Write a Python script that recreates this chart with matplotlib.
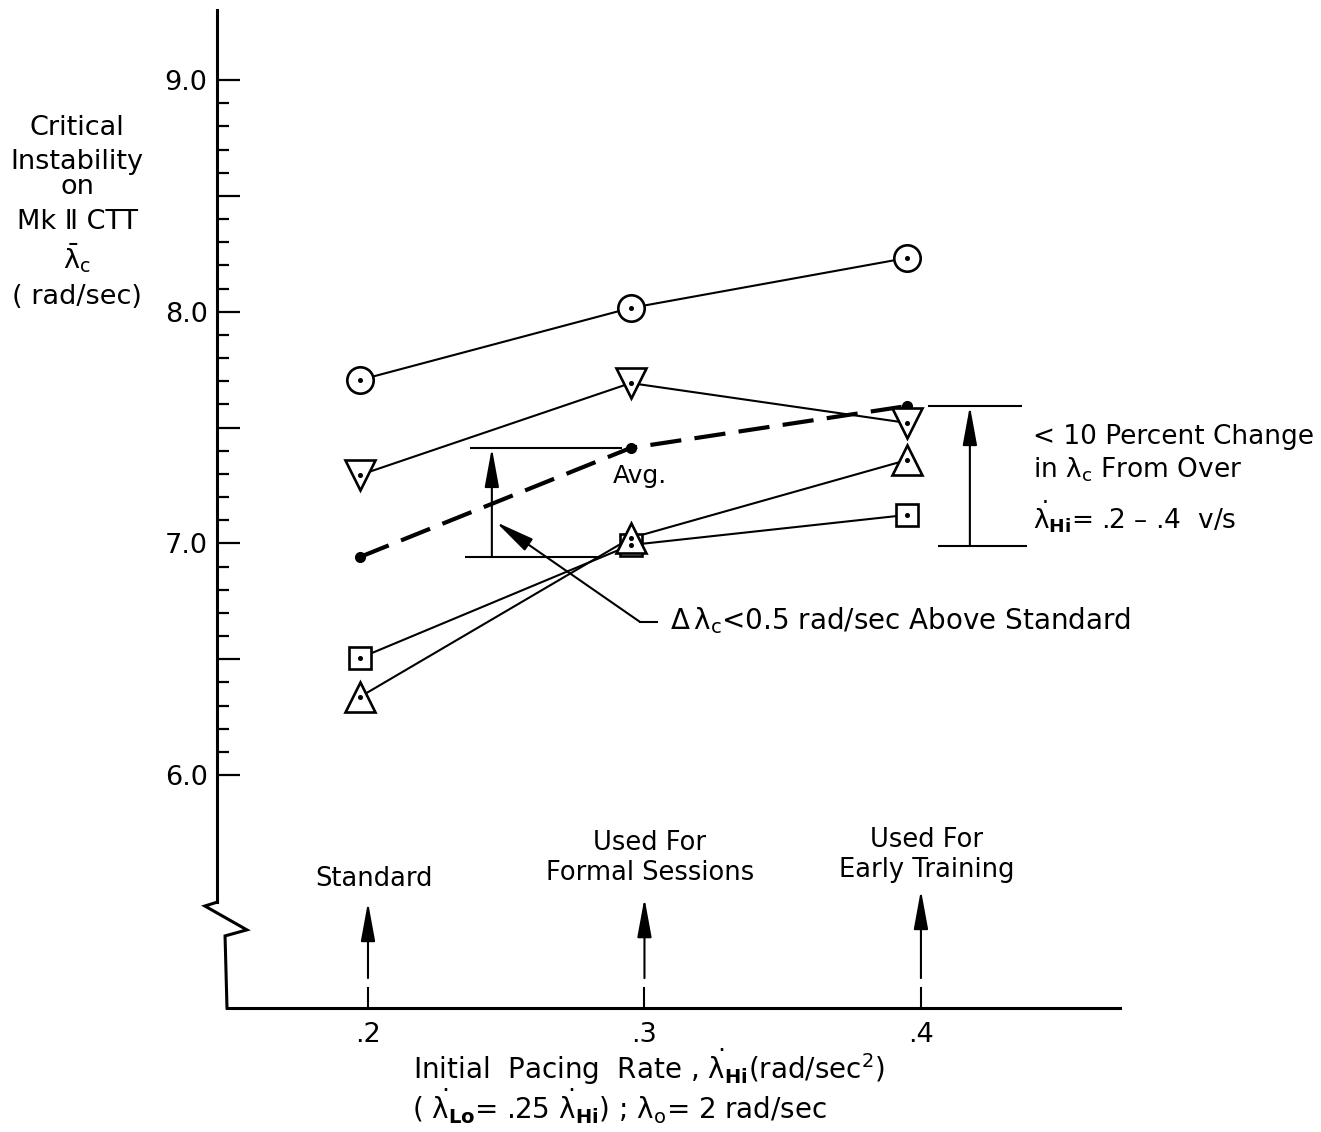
import numpy as np
import matplotlib
matplotlib.use("Agg")
import matplotlib.pyplot as plt
from matplotlib.ticker import FixedLocator, FixedFormatter

plt.rcParams["font.family"] = ["DejaVu Sans"]
plt.rcParams["mathtext.fontset"] = "dejavusans"

# pacing rate where the points sit and lambda_c values
RATE = [0.197, 0.295, 0.395]
CIRCLE = [7.705, 8.016, 8.232]
TRI_DOWN = [7.295, 7.692, 7.520]
AVERAGE = [6.941, 7.412, 7.593]
SQUARE = [6.505, 6.993, 7.123]
TRI_UP = [6.337, 7.023, 7.360]

X_TICKS = [0.2, 0.3, 0.4]
X_TICK_LABELS = [".2", ".3", ".4"]
Y_MAJOR = np.arange(6.0, 9.01, 0.5)
Y_MINOR = np.arange(6.0, 9.01, 0.1)
Y_MAJOR_LABELS = ["6.0", "", "7.0", "", "8.0", "", "9.0"]

NOTE_RATES = [0.2, 0.3, 0.4]
NOTE_LABELS = ["Standard", "Used For\nFormal Sessions", "Used For\nEarly Training"]
RIGHT_LOW = 6.99  # lower limit of the "< 10 percent" bracket

LAM = r"\mathrm{\lambda}"
# dotted lambda; the trailing thin space nudges the dot towards the glyph centre
LAMDOT = r"{\dot{\mathrm{\lambda}\,}\!}"

fig = plt.figure(figsize=(13.21, 11.32), dpi=100)
ax = fig.add_axes([0, 0, 1, 1])
ax.set_xlim(0.0669, 0.5447)
ax.set_ylim(4.4597, 9.3453)

# axes: left spine with inward ticks, bottom spine, break mark
for side in ["top", "right"]:
    ax.spines[side].set_visible(False)
ax.spines["left"].set_position(("data", 0.1455))
ax.spines["left"].set_bounds(5.452, 9.30)
ax.spines["bottom"].set_position(("data", 4.995))
ax.spines["bottom"].set_bounds(0.149, 0.472)
for side in ["left", "bottom"]:
    ax.spines[side].set_linewidth(2.2)

ax.yaxis.set_major_locator(FixedLocator(Y_MAJOR))
ax.yaxis.set_major_formatter(FixedFormatter(Y_MAJOR_LABELS))
ax.yaxis.set_minor_locator(FixedLocator(Y_MINOR))
ax.tick_params(axis="y", which="major", direction="in", length=16.5, width=1.6,
               labelsize=19.5, pad=7)
ax.tick_params(axis="y", which="minor", direction="in", length=8.5, width=1.6)
ax.set_xticks(X_TICKS, X_TICK_LABELS)
ax.tick_params(axis="x", length=0, labelsize=19.5, pad=10)

ax.plot([0.1455, 0.1410, 0.1562, 0.1483, 0.149], [5.452, 5.435, 5.332, 5.306, 4.995],
        color="black", lw=2.2, solid_joinstyle="miter", clip_on=False)

# data series
series = [(CIRCLE, "o", 19), (TRI_DOWN, "v", 22), (SQUARE, "s", 16.5), (TRI_UP, "^", 22)]
for vals, mk, ms in series:
    ax.plot(RATE, vals, color="black", lw=1.5, zorder=2)
for vals, mk, ms in series:
    ax.plot(RATE, vals, ls="none", marker=mk, ms=ms, mfc="white", mec="black",
            mew=1.9, zorder=3)
    ax.plot(RATE, vals, ls="none", marker="o", ms=2.6, color="black", zorder=4)

ax.plot(RATE, AVERAGE, color="black", lw=3, dashes=(7.5, 3.2), marker="o", ms=7,
        zorder=2.5)
ax.text(0.2984, 7.291, "Avg.", fontsize=18, ha="center", va="center")

arrow_kw = dict(arrowstyle="-|>,head_length=1.2,head_width=0.22", color="black",
                lw=1.5, mutation_scale=20, shrinkA=0, shrinkB=0)

# bracket between standard and formal-session averages
ax.hlines(AVERAGE[1], 0.2369, 0.2919, color="black", lw=1.5)
ax.hlines(AVERAGE[0], 0.2351, 0.2846, color="black", lw=1.5)
ax.annotate("", xy=(0.2448, AVERAGE[1]), xytext=(0.2448, AVERAGE[0]), arrowprops=arrow_kw)
ax.annotate("", xy=(0.2463, 7.092), xytext=(0.2984, 6.661), arrowprops=arrow_kw)
ax.plot([0.2984, 0.3045], [6.661, 6.661], color="black", lw=1.5)
ax.text(0.3092, 6.669, rf"$\Delta\,{LAM}_{{\mathrm{{c}}}}$<0.5 rad/sec Above Standard",
        fontsize=20, ha="left", va="center")

# bracket on the right
ax.hlines(AVERAGE[2], 0.4025, 0.4365, color="black", lw=1.5)
ax.hlines(RIGHT_LOW, 0.4061, 0.4383, color="black", lw=1.5)
ax.annotate("", xy=(0.4177, AVERAGE[2]), xytext=(0.4177, RIGHT_LOW), arrowprops=arrow_kw)
ax.text(0.4405, 7.459, "< 10 Percent Change", fontsize=19, ha="left", va="center")
ax.text(0.4405, 7.317, rf"in ${LAM}_{{\mathrm{{c}}}}$ From Over", fontsize=19,
        ha="left", va="center")
ax.text(0.4405, 7.114, rf"${LAMDOT}_{{\mathbf{{Hi}}}}$= .2 – .4  v/s", fontsize=19,
        ha="left", va="center")

# arrows marking the three pacing rates
note_tips = [5.452, 5.469, 5.504]
note_text_y = [5.551, 5.642, 5.655]
for rate, label, tip, ty in zip(NOTE_RATES, NOTE_LABELS, note_tips, note_text_y):
    ax.annotate("", xy=(rate, tip), xytext=(rate, 5.124), arrowprops=arrow_kw)
    ax.plot([rate, rate], [4.995, 5.081], color="black", lw=1.5)
    ax.text(rate + 0.002, ty, label, fontsize=18.5, ha="center", va="center",
            multialignment="center", linespacing=1.2)

# y label, stacked
ylab_lines = ["Critical", "Instability", "on", "Mk Ⅱ CTT",
              rf"$\bar{{{LAM}}}_{{\mathrm{{c}}}}$", "( rad/sec)"]
ylab_y = [8.793, 8.646, 8.538, 8.387, 8.232, 8.063]
for line, yy in zip(ylab_lines, ylab_y):
    ax.text(0.0948, yy, line, fontsize=19.5, ha="center", va="center")

# x label
ax.text(0.3016, 4.740,
        rf"Initial  Pacing  Rate , ${LAMDOT}_{{\mathbf{{Hi}}}}$(rad/sec$^2$)",
        fontsize=20, ha="center", va="center")
ax.text(0.2911, 4.572,
        rf"( ${LAMDOT}_{{\mathbf{{Lo}}}}$= .25 ${LAMDOT}_{{\mathbf{{Hi}}}}$) ; "
        rf"${LAM}_{{\mathrm{{o}}}}$= 2 rad/sec",
        fontsize=20, ha="center", va="center")

fig.savefig("out.png", dpi=100)
